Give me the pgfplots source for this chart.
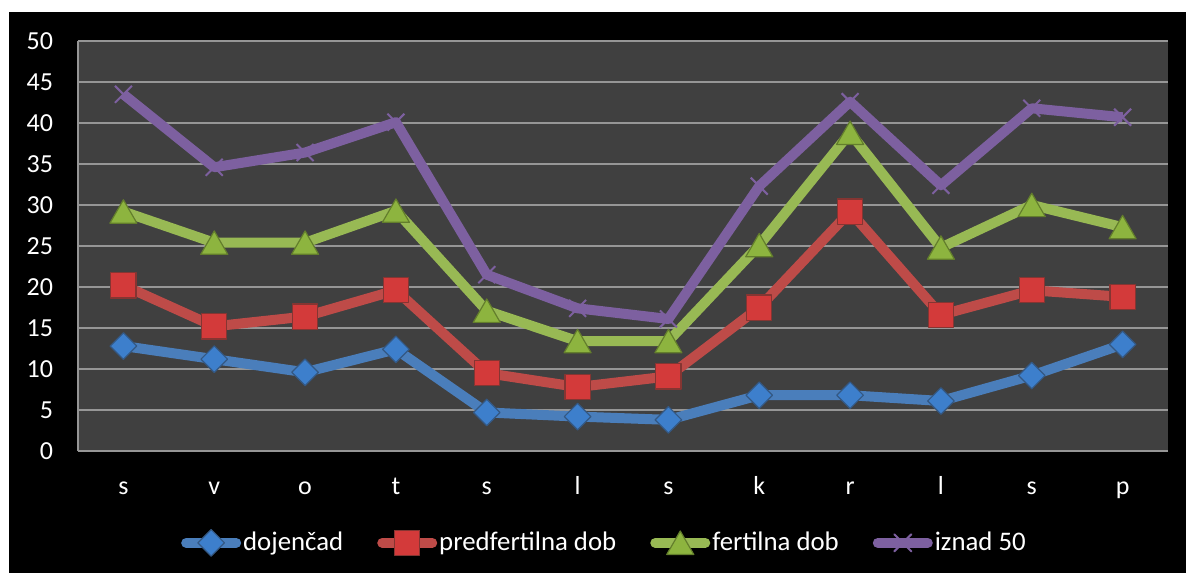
\documentclass[border=0pt]{standalone}
\usepackage{pgfplots}
\pgfplotsset{compat=1.18}
\usepackage{fontspec}
\setmainfont{Carlito}
\usetikzlibrary{plotmarks}
\definecolor{bgplot}{HTML}{404040}
\definecolor{gridc}{HTML}{969696}
\definecolor{cblue}{HTML}{4A7EBB}
\definecolor{cred}{HTML}{BE4B48}
\definecolor{cgreen}{HTML}{98B954}
\definecolor{cpurple}{HTML}{7D60A0}
\definecolor{mblue}{HTML}{3D7FCC}
\definecolor{mred}{HTML}{D33A3A}
\definecolor{mgreen}{HTML}{8DB43F}
\begin{document}
\fontsize{13}{15}\selectfont
\begin{tikzpicture}
\fill[white] (0pt,0pt) rectangle (593pt,286.5pt);
\fill[black] (4.5pt,0pt) rectangle (593pt,280.5pt);
\begin{axis}[
  at={(39pt,61pt)}, anchor=south west,
  scale only axis, width=545pt, height=205pt,
  xmin=-0.5, xmax=11.5, ymin=0, ymax=50,
  xtick={0,...,11}, xticklabels={s,v,o,t,s,l,s,k,r,l,s,p},
  ytick={0,5,...,50},
  ymajorgrids, grid style={gridc, line width=1pt},
  axis background/.style={fill=bgplot},
  axis x line*=bottom, axis y line*=left,
  axis line style={gridc, line width=1pt, -},
  major tick length=0pt,
  tick label style={text=white, font=\fontsize{13}{15}\selectfont},
  /pgf/number format/assume math mode=true,
  yticklabel style={anchor=east, xshift=-8pt},
  xticklabel style={anchor=north, text height=0.65em, text depth=0pt, yshift=-9pt},
  legend style={at={(0.483,-0.224)}, anchor=center, legend columns=-1, draw=none, fill=none,
    text=white, font=\fontsize{13.4}{15}\selectfont,
    nodes={inner sep=1pt},
    /tikz/every odd column/.append style={column sep=0pt},
    /tikz/every even column/.append style={column sep=16pt}},
  legend image code/.code={\draw[mark repeat=2, mark phase=2, line cap=round, #1] plot coordinates {(0pt,0pt) (12.5pt,0pt) (25pt,0pt)};},
  every axis plot/.append style={line width=5pt, line join=round},
]
\addplot[cblue, mark=square*, mark size=4.7pt, mark options={line width=0.6pt, draw=cblue!70!black, fill=mblue, rotate=45}] coordinates {
(0,12.8) (1,11.2) (2,9.6) (3,12.4) (4,4.7) (5,4.2) (6,3.8) (7,6.8) (8,6.8) (9,6.1) (10,9.2) (11,13.0)};
\addlegendentry{dojenčad}
\addplot[cred, mark=square*, mark size=6.3pt, mark options={line width=0.6pt, draw=cred!70!black, fill=mred}] coordinates {
(0,20.2) (1,15.2) (2,16.4) (3,19.6) (4,9.5) (5,7.8) (6,9.1) (7,17.5) (8,29.2) (9,16.6) (10,19.6) (11,18.8)};
\addlegendentry{predfertilna dob}
\addplot[cgreen, mark=triangle*, mark size=7.8pt, mark options={line width=0.6pt, draw=mgreen!70!black, fill=mgreen, yshift=-1.9pt}] coordinates {
(0,29.2) (1,25.4) (2,25.4) (3,29.3) (4,17.1) (5,13.4) (6,13.4) (7,25.1) (8,38.8) (9,24.8) (10,30.0) (11,27.3)};
\addlegendentry{fertilna dob}
\addplot[cpurple, mark=x, mark size=6pt, mark options={line width=1pt, draw=cpurple}] coordinates {
(0,43.5) (1,34.6) (2,36.4) (3,40.1) (4,21.5) (5,17.4) (6,16.1) (7,32.3) (8,42.6) (9,32.4) (10,41.8) (11,40.7)};
\addlegendentry{iznad 50}
\end{axis}
\end{tikzpicture}
\end{document}
